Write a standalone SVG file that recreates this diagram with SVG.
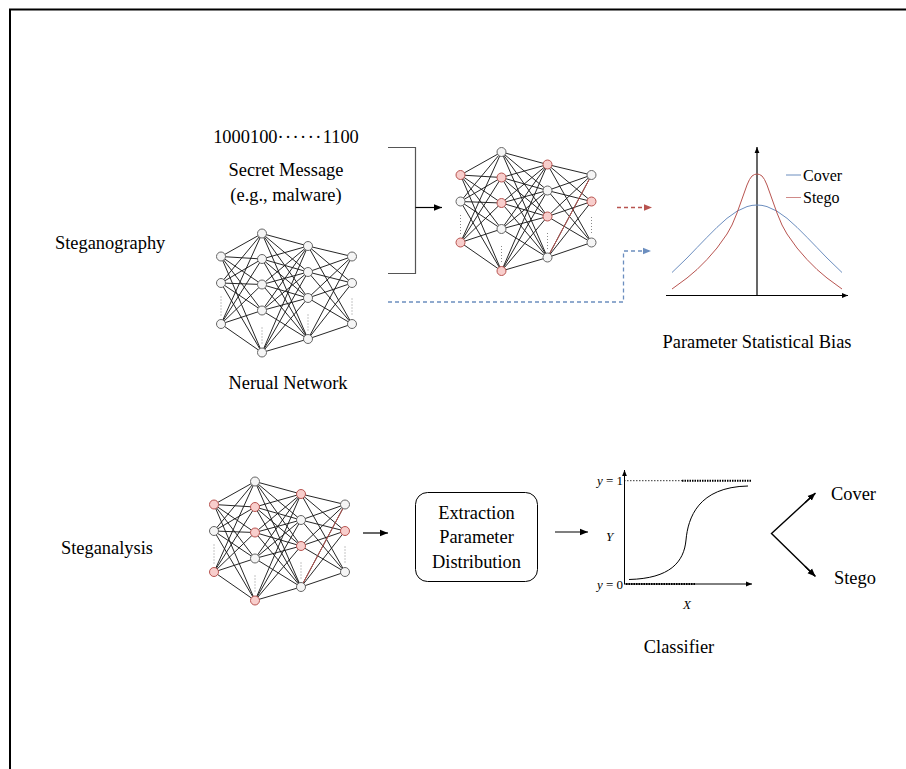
<svg xmlns="http://www.w3.org/2000/svg" xmlns:xlink="http://www.w3.org/1999/xlink" width="906" height="769" viewBox="0 0 906 769">
  <style>
    text { font-family: "Liberation Serif", "Times New Roman", serif; fill: #000; }
    .lbl { font-size: 18.4px; }
    .mid { text-anchor: middle; }
    .leg { font-size: 16px; }
    .math { font-size: 13px; }
    .edge { fill: none; stroke: #1a1a1a; stroke-width: 0.95; }
    .gn { fill: #f5f5f5; stroke: #666; stroke-width: 1; }
    .rn { fill: #f8cecc; stroke: #b85450; stroke-width: 1; }
    .dots { stroke: #888; stroke-width: 1; stroke-dasharray: 1 2; }
    .redge { stroke: #b85450; stroke-width: 1; }
    .conn { fill: none; stroke: #000; stroke-width: 1.2; }
  </style>
  <defs>
    <marker id="ah" viewBox="0 0 10 10" refX="10" refY="5" markerWidth="8" markerHeight="8" markerUnits="userSpaceOnUse" orient="auto">
      <path d="M0,1 L10,5 L0,9 z" fill="#000"/>
    </marker>
    <marker id="ahS" viewBox="0 0 10 10" refX="10" refY="5" markerWidth="6" markerHeight="6" markerUnits="userSpaceOnUse" orient="auto">
      <path d="M0,1 L10,5 L0,9 z" fill="#000"/>
    </marker>
    <marker id="ahR" viewBox="0 0 10 10" refX="10" refY="5" markerWidth="8" markerHeight="8" markerUnits="userSpaceOnUse" orient="auto">
      <path d="M0,1 L10,5 L0,9 z" fill="#b85450"/>
    </marker>
    <marker id="ahB" viewBox="0 0 10 10" refX="10" refY="5" markerWidth="8" markerHeight="8" markerUnits="userSpaceOnUse" orient="auto">
      <path d="M0,1 L10,5 L0,9 z" fill="#6c8ebf"/>
    </marker>
    <!-- fully connected layers 3-5-4-3 -->
    <path id="mesh" class="edge" d="M0 0L41 -23M0 0L41 2.5M0 0L41 28M0 0L41 54M0 0L41 96
      M0 26.5L41 -23M0 26.5L41 2.5M0 26.5L41 28M0 26.5L41 54M0 26.5L41 96
      M0 67.5L41 -23M0 67.5L41 2.5M0 67.5L41 28M0 67.5L41 54M0 67.5L41 96
      M41 -23L87 -10.5M41 -23L87 15.5M41 -23L87 41.5M41 -23L87 82.5
      M41 2.5L87 -10.5M41 2.5L87 15.5M41 2.5L87 41.5M41 2.5L87 82.5
      M41 28L87 -10.5M41 28L87 15.5M41 28L87 41.5M41 28L87 82.5
      M41 54L87 -10.5M41 54L87 15.5M41 54L87 41.5M41 54L87 82.5
      M41 96L87 -10.5M41 96L87 15.5M41 96L87 41.5M41 96L87 82.5
      M87 -10.5L131 0M87 -10.5L131 26.5M87 -10.5L131 67.5
      M87 15.5L131 0M87 15.5L131 26.5M87 15.5L131 67.5
      M87 41.5L131 0M87 41.5L131 26.5M87 41.5L131 67.5
      M87 82.5L131 0M87 82.5L131 26.5M87 82.5L131 67.5"/>
    <g id="gaps">
      <line class="dots" x1="0" y1="40" x2="0" y2="60"/>
      <line class="dots" x1="41" y1="71" x2="41" y2="87"/>
      <line class="dots" x1="87" y1="58" x2="87" y2="76"/>
      <line class="dots" x1="131" y1="42" x2="131" y2="59"/>
    </g>
  </defs>

  <rect width="906" height="769" fill="#fff"/>
  <!-- outer frame -->
  <rect x="10" y="9.5" width="960" height="820" fill="none" stroke="#000" stroke-width="2"/>

  <!-- row labels -->
  <g id="label-steganography"><text class="lbl" x="55" y="249">Steganography</text></g>
  <g id="label-steganalysis"><text class="lbl" x="61" y="554">Steganalysis</text></g>

  <!-- secret message -->
  <g id="secret-message">
    <text class="lbl mid" x="286" y="143">1000100<tspan letter-spacing="1.4">······</tspan>1100</text>
    <text class="lbl mid" x="286" y="176">Secret Message</text>
    <text class="lbl mid" x="286" y="201">(e.g., malware)</text>
  </g>

  <!-- cover network -->
  <g id="cover-network" transform="translate(221,256.5)">
    <use xlink:href="#mesh"/>
    <use xlink:href="#gaps"/>
    <g class="gn">
      <circle cx="0" cy="0" r="4.5"/><circle cx="0" cy="26.5" r="4.5"/><circle cx="0" cy="67.5" r="4.5"/>
      <circle cx="41" cy="-23" r="4.5"/><circle cx="41" cy="2.5" r="4.5"/><circle cx="41" cy="28" r="4.5"/><circle cx="41" cy="54" r="4.5"/><circle cx="41" cy="96" r="4.5"/>
      <circle cx="87" cy="-10.5" r="4.5"/><circle cx="87" cy="15.5" r="4.5"/><circle cx="87" cy="41.5" r="4.5"/><circle cx="87" cy="82.5" r="4.5"/>
      <circle cx="131" cy="0" r="4.5"/><circle cx="131" cy="26.5" r="4.5"/><circle cx="131" cy="67.5" r="4.5"/>
    </g>
  </g>
  <g id="label-network"><text class="lbl mid" x="288" y="389">Nerual Network</text></g>

  <!-- stego network (embedding result) -->
  <g id="stego-network" transform="translate(460.5,175)">
    <use xlink:href="#mesh"/>
    <use xlink:href="#gaps"/>
    <line class="redge" x1="87" y1="82.5" x2="131" y2="0"/>
    <circle class="rn" cx="0" cy="0" r="4.5"/><circle class="gn" cx="0" cy="26.5" r="4.5"/><circle class="rn" cx="0" cy="67.5" r="4.5"/>
    <circle class="gn" cx="41" cy="-23" r="4.5"/><circle class="rn" cx="41" cy="2.5" r="4.5"/><circle class="rn" cx="41" cy="28" r="4.5"/><circle class="gn" cx="41" cy="54" r="4.5"/><circle class="rn" cx="41" cy="96" r="4.5"/>
    <circle class="rn" cx="87" cy="-10.5" r="4.5"/><circle class="gn" cx="87" cy="15.5" r="4.5"/><circle class="rn" cx="87" cy="41.5" r="4.5"/><circle class="gn" cx="87" cy="82.5" r="4.5"/>
    <circle class="gn" cx="131" cy="0" r="4.5"/><circle class="rn" cx="131" cy="26.5" r="4.5"/><circle class="gn" cx="131" cy="67.5" r="4.5"/>
  </g>

  <!-- suspect network (analysis input) -->
  <g id="suspect-network" transform="translate(214,504.5)">
    <use xlink:href="#mesh"/>
    <use xlink:href="#gaps"/>
    <line class="redge" x1="87" y1="82.5" x2="131" y2="0"/>
    <circle class="rn" cx="0" cy="0" r="4.5"/><circle class="gn" cx="0" cy="26.5" r="4.5"/><circle class="rn" cx="0" cy="67.5" r="4.5"/>
    <circle class="gn" cx="41" cy="-23" r="4.5"/><circle class="rn" cx="41" cy="2.5" r="4.5"/><circle class="rn" cx="41" cy="28" r="4.5"/><circle class="gn" cx="41" cy="54" r="4.5"/><circle class="rn" cx="41" cy="96" r="4.5"/>
    <circle class="rn" cx="87" cy="-10.5" r="4.5"/><circle class="gn" cx="87" cy="15.5" r="4.5"/><circle class="rn" cx="87" cy="41.5" r="4.5"/><circle class="gn" cx="87" cy="82.5" r="4.5"/>
    <circle class="gn" cx="131" cy="0" r="4.5"/><circle class="rn" cx="131" cy="26.5" r="4.5"/><circle class="gn" cx="131" cy="67.5" r="4.5"/>
  </g>

  <!-- parameter distribution plot -->
  <g id="bias-plot">
    <line class="conn" x1="757" y1="296" x2="757" y2="147" marker-end="url(#ahS)" stroke-width="1"/>
    <line class="conn" x1="666" y1="295.5" x2="848" y2="295.5" marker-end="url(#ahS)" stroke-width="1"/>
    <polyline fill="none" stroke="#6c8ebf" stroke-width="1" stroke-linejoin="round" points="672,272.5 687,258 697,247.6 707,237.3 717,227.3 727,218.3 737,211.2 747,206.6 752,205.4 757,205 762,205.4 767,206.6 777,211.2 787,218.3 797,227.3 807,237.3 817,247.6 827,258 842,272.5"/>
    <polyline fill="none" stroke="#b85450" stroke-width="1" stroke-linejoin="round" points="672,289 687,278 697,269.5 707,259.5 717,248 727,234 732,225 737,213 742,199 747,185 749.5,179.5 752,176 754.5,174.5 757,174 759.5,174.5 762,176 764.5,179.5 767,185 772,199 777,213 782,225 787,234 797,248 807,259.5 817,269.5 827,278 842,289"/>
    <line x1="786" y1="175" x2="801" y2="175" stroke="#6c8ebf" stroke-width="1"/>
    <line x1="786" y1="197.5" x2="801" y2="197.5" stroke="#d08a88" stroke-width="1"/>
    <text class="leg" x="803" y="180.5">Cover</text>
    <text class="leg" x="803" y="202.5">Stego</text>
  </g>
  <g id="label-bias"><text class="lbl mid" x="757" y="348">Parameter Statistical Bias</text></g>

  <!-- extraction box -->
  <g id="extraction">
    <rect x="415.5" y="492.5" width="122" height="89" rx="12" ry="12" fill="#fff" stroke="#000" stroke-width="1"/>
    <text class="lbl mid" x="476.5" y="519">Extraction</text>
    <text class="lbl mid" x="476.5" y="543">Parameter</text>
    <text class="lbl mid" x="476.5" y="568">Distribution</text>
  </g>

  <!-- classifier plot -->
  <g id="classifier">
    <line x1="624.5" y1="584" x2="624.5" y2="470" stroke="#000" stroke-width="1" marker-end="url(#ahS)"/>
    <line x1="624" y1="584" x2="752" y2="584" stroke="#000" stroke-width="1" marker-end="url(#ahS)"/>
    <line x1="624" y1="480.7" x2="682" y2="480.7" stroke="#000" stroke-width="0.8" stroke-dasharray="1.5 1.5"/>
    <line x1="682" y1="480.7" x2="751" y2="480.7" stroke="#000" stroke-width="2" stroke-dasharray="1.5 1"/>
    <line x1="626" y1="584" x2="695" y2="584" stroke="#000" stroke-width="2" stroke-dasharray="1.5 1"/>
    <path d="M629,579.5 C670,578.5 684,562 686,540 C688,518 698,487 748,486" fill="none" stroke="#000" stroke-width="1"/>
    <text class="math" x="597" y="485"><tspan font-style="italic">y</tspan> = 1</text>
    <text class="math" x="597" y="588.5"><tspan font-style="italic">y</tspan> = 0</text>
    <text class="math" x="606" y="541" font-style="italic">Y</text>
    <text class="math" x="683" y="609" font-style="italic">X</text>
  </g>
  <g id="label-classifier"><text class="lbl mid" x="679" y="653">Classifier</text></g>

  <!-- outcomes -->
  <g id="out-cover"><text class="lbl" x="831" y="500">Cover</text></g>
  <g id="out-stego"><text class="lbl" x="834" y="584">Stego</text></g>

  <!-- connectors -->
  <g id="connectors">
    <polyline points="388,147.5 415.5,147.5 415.5,273.5 388,273.5" fill="none" stroke="#555" stroke-width="1.2"/>
    <line class="conn" x1="415.5" y1="207.5" x2="442" y2="207.5" marker-end="url(#ah)"/>
    <line x1="617" y1="207.5" x2="652" y2="207.5" stroke="#b85450" stroke-width="1.3" stroke-dasharray="4 3" marker-end="url(#ahR)"/>
    <polyline points="388,302 623.5,302 623.5,251 651,251" fill="none" stroke="#6c8ebf" stroke-width="1.3" stroke-dasharray="4 3" marker-end="url(#ahB)"/>
    <line class="conn" x1="363" y1="533" x2="388" y2="533" marker-end="url(#ah)"/>
    <line class="conn" x1="555" y1="532" x2="588" y2="532" marker-end="url(#ah)"/>
    <polyline points="815,493.5 771.5,533.5 815,576" fill="none" stroke="#000" stroke-width="1.4"/>
    <line x1="805" y1="502.7" x2="815.5" y2="493" stroke="#000" stroke-width="1.4" marker-end="url(#ah)"/>
    <line x1="805" y1="566.2" x2="815.5" y2="576.5" stroke="#000" stroke-width="1.4" marker-end="url(#ah)"/>
  </g>
</svg>
